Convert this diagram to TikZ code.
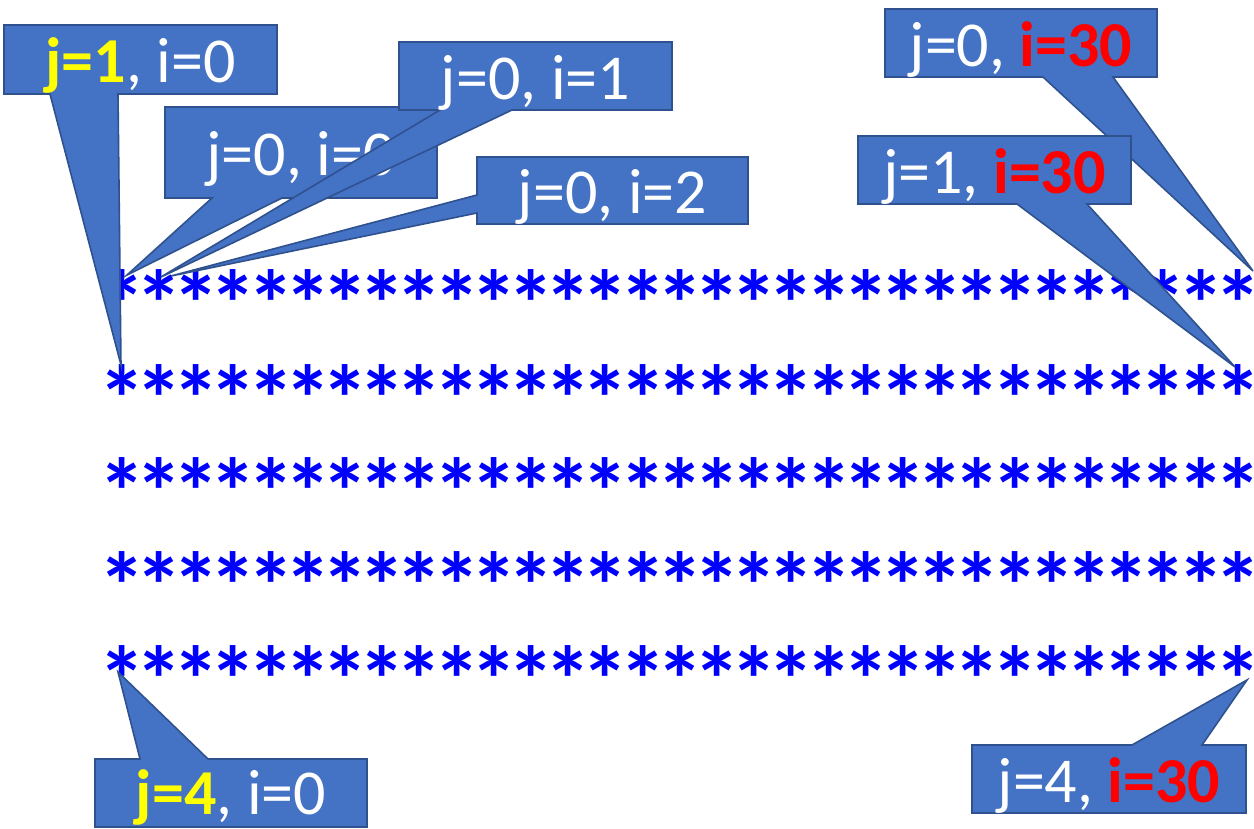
\documentclass[tikz,border=0pt]{standalone}
\usepackage{fontspec}
\setmainfont{Carlito}
\definecolor{cfill}{HTML}{4472C4}
\definecolor{cline}{HTML}{2F528F}
\definecolor{starblue}{RGB}{0,0,255}
\definecolor{lblyellow}{RGB}{255,255,0}
\definecolor{lblred}{RGB}{255,0,0}
\begin{document}
\begin{tikzpicture}[x=1pt,y=-1pt,
  frame/.style={inner sep=0pt, outer sep=0pt, minimum width=#1},
  callshape/.style={fill=cfill, draw=cline, line width=1.6pt, line join=miter},
  lbl/.style={inner sep=0pt, text=white, font=\fontsize{64}{70}\selectfont,
    text height=46pt, text depth=0pt},
  starmark/.style={inner sep=0pt, text=starblue, anchor=base,
    font=\fontsize{95}{100}\selectfont\bfseries}]
\useasboundingbox (0,0) rectangle (1254,828);
\fill[white] (0,0) rectangle (1254,828);
% rows of asterisks
\foreach \ry [count=\k] in {285,380,473,567,661}
  \foreach \c in {0,...,30}
    \node[starmark] (s-\k-\c) at ({122+37.2*\c},{\ry+52}) {\makebox[30pt]{*}};
% callout 1: j=1, i=0
\node[frame=273pt, minimum height=69pt] (b1) at (140.5,59.5) {};
\coordinate (a1) at (50,94); \coordinate (z1) at (118,94); \coordinate (t1) at (121,365);
\filldraw[callshape] (b1.north west) -- (b1.north east) -- (b1.south east) -- (z1) -- (t1) -- (a1) -- (b1.south west) -- cycle;
\node[lbl] (l1) at (b1.center) {\textcolor{lblyellow}{\bfseries j=1}, i=0};
% callout 2: j=0, i=0
\node[frame=272pt, minimum height=91pt] (b2) at (301,152.5) {};
\coordinate (a2) at (212,198); \coordinate (z2) at (282,198); \coordinate (t2) at (127,275);
\filldraw[callshape] (b2.north west) -- (b2.north east) -- (b2.south east) -- (z2) -- (t2) -- (a2) -- (b2.south west) -- cycle;
\node[lbl] (l2) at (b2.center) {j=0, i=0};
% callout 3: j=0, i=1
\node[frame=273pt, minimum height=68pt] (b3) at (535.5,76) {};
\coordinate (a3) at (440,110); \coordinate (z3) at (512,110); \coordinate (t3) at (161,277);
\filldraw[callshape] (b3.north west) -- (b3.north east) -- (b3.south east) -- (z3) -- (t3) -- (a3) -- (b3.south west) -- cycle;
\node[lbl] (l3) at (b3.center) {j=0, i=1};
% callout 4: j=0, i=2
\node[frame=271pt, minimum height=67pt] (b4) at (612.5,190.5) {};
\coordinate (a4) at (477,213); \coordinate (z4) at (477,195); \coordinate (t4) at (171,276);
\filldraw[callshape] (b4.north west) -- (b4.north east) -- (b4.south east) -- (b4.south west) -- (a4) -- (t4) -- (z4) -- cycle;
\node[lbl] (l4) at (b4.center) {j=0, i=2};
% callout 5: j=0, i=30
\node[frame=272pt, minimum height=68pt] (b5) at (1021,43) {};
\coordinate (a5) at (1043,77); \coordinate (z5) at (1113,77); \coordinate (t5) at (1253,271);
\filldraw[callshape] (b5.north west) -- (b5.north east) -- (b5.south east) -- (z5) -- (t5) -- (a5) -- (b5.south west) -- cycle;
\node[lbl] (l5) at (b5.center) {j=0, \textcolor{lblred}{\bfseries i=30}};
% callout 6: j=1, i=30
\node[frame=273pt, minimum height=68pt] (b6) at (994.5,170) {};
\coordinate (a6) at (1017,204); \coordinate (z6) at (1087,204); \coordinate (t6) at (1235,367);
\filldraw[callshape] (b6.north west) -- (b6.north east) -- (b6.south east) -- (z6) -- (t6) -- (a6) -- (b6.south west) -- cycle;
\node[lbl] (l6) at (b6.center) {j=1, \textcolor{lblred}{\bfseries i=30}};
% callout 7: j=4, i=0
\node[frame=272pt, minimum height=68pt] (b7) at (231,793) {};
\coordinate (a7) at (140,759); \coordinate (z7) at (208,759); \coordinate (t7) at (118,672);
\filldraw[callshape] (b7.south west) -- (b7.north west) -- (a7) -- (t7) -- (z7) -- (b7.north east) -- (b7.south east) -- cycle;
\node[lbl] (l7) at (231,791) {\textcolor{lblyellow}{\bfseries j=4}, i=0};
% callout 8: j=4, i=30
\node[frame=274pt, minimum height=68pt] (b8) at (1109,779) {};
\coordinate (a8) at (1132,745); \coordinate (z8) at (1202,745); \coordinate (t8) at (1247,680);
\filldraw[callshape] (b8.south west) -- (b8.north west) -- (a8) -- (t8) -- (z8) -- (b8.north east) -- (b8.south east) -- cycle;
\node[lbl] (l8) at (b8.center) {j=4, \textcolor{lblred}{\bfseries i=30}};
\end{tikzpicture}
\end{document}
